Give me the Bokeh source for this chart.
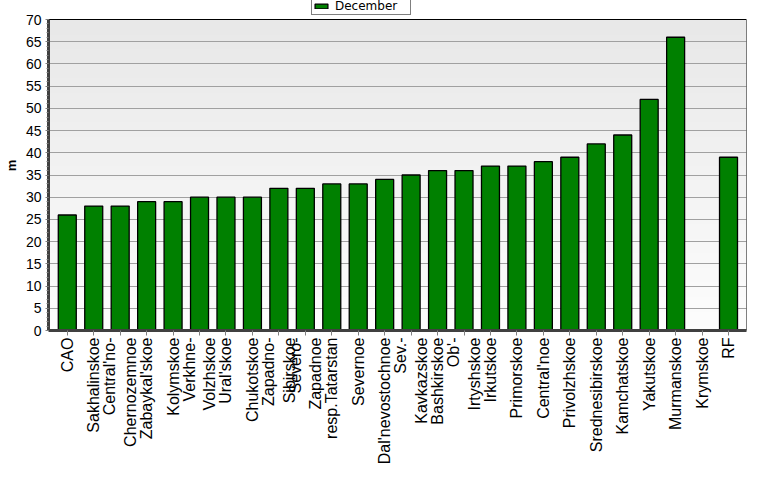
import numpy as np
from bokeh.plotting import figure
from bokeh.models import (ColumnDataSource, Range1d, FixedTicker, SingleIntervalTicker,
                          Legend, LegendItem)
from bokeh.embed import file_html
from bokeh.resources import INLINE

# ---- data ----
regions = ["CAO", "Sakhalinskoe", "Central'no-\nChernozemnoe", "Zabaykal'skoe", "Kolymskoe",
           "Verkhne-\nVolzhskoe", "Ural'skoe", "Chukotskoe", "Zapadno-\nSibirskoe",
           "Severo-\nZapadnoe", "resp.Tatarstan", "Severnoe", "Dal'nevostochnoe",
           "Sev.-\nKavkazskoe", "Bashkirskoe", "Ob'-\nIrtyshskoe", "Irkutskoe", "Primorskoe",
           "Central'noe", "Privolzhskoe", "Srednesibirskoe", "Kamchatskoe", "Yakutskoe",
           "Murmanskoe", "Krymskoe", "RF"]
december = [26, 28, 28, 29, 29, 30, 30, 30, 32, 32, 33, 33, 34, 35, 36, 36, 37, 37,
            38, 39, 42, 44, 52, 66, float("nan"), 39]
y_ticks = [0, 5, 10, 15, 20, 25, 30, 35, 40, 45, 50, 55, 60, 65, 70]
series_name = "December"
y_label = "m"
y_max = 70

xs = list(range(len(regions)))
src = ColumnDataSource(dict(x=xs, top=december))

x0, x1 = -0.71, len(regions) - 1 + 0.68

H = 470
PLOT_TOP_PX = 19          # pixels between figure top and the 70 line
PLOT_H_PX = 311           # pixels from 0 to 70
BOTTOM = H - PLOT_TOP_PX - PLOT_H_PX
y_top = y_max * (1 + PLOT_TOP_PX / PLOT_H_PX)

p = figure(width=761, height=H, output_backend="svg", toolbar_location=None,
           x_range=Range1d(x0, x1), y_range=Range1d(0, y_top),
           min_border_left=42, min_border_right=15, min_border_top=0, min_border_bottom=BOTTOM)

p.background_fill_color = "white"
p.border_fill_color = "white"
p.outline_line_color = None

# gradient plot background
n = 64
shade = np.linspace(253, 232, n).astype(np.uint32)
img = np.empty((n, 1), dtype=np.uint32)
view = img.view(dtype=np.uint8).reshape((n, 1, 4))
view[:, 0, 0] = shade
view[:, 0, 1] = shade
view[:, 0, 2] = shade
view[:, 0, 3] = 255
p.image_rgba(image=[img], x=x0, y=0, dw=x1 - x0, dh=y_max, level="image")

# plot-area border
p.quad(left=x0, right=x1, bottom=0, top=y_max, fill_color=None, line_color="black",
       line_width=1)

bars = p.vbar(x="x", top="top", width=0.68, source=src, fill_color="#008000",
              line_color="black", line_width=1.3)

# grid
p.xgrid.visible = False
p.ygrid.ticker = FixedTicker(ticks=y_ticks)
p.ygrid.grid_line_color = "#a0a0a0"
p.ygrid.grid_line_width = 1

# y axis
p.yaxis.ticker = SingleIntervalTicker(interval=5, num_minor_ticks=5)
p.yaxis.bounds = (0, y_max)
p.yaxis.axis_line_color = "#404040"
p.yaxis.axis_line_width = 3
p.yaxis.major_tick_out = 3
p.yaxis.major_tick_in = 0
p.yaxis.minor_tick_out = 2
p.yaxis.minor_tick_in = 0
p.yaxis.major_tick_line_color = "#808080"
p.yaxis.minor_tick_line_color = "#808080"
p.yaxis.major_label_text_font = "Liberation Sans"
p.yaxis.major_label_text_font_size = "14px"
p.yaxis.major_label_text_color = "black"
p.yaxis.major_label_standoff = 4
p.yaxis.axis_label = y_label
p.yaxis.axis_label_text_font = "Liberation Sans"
p.yaxis.axis_label_text_font_size = "13px"
p.yaxis.axis_label_text_font_style = "bold"
p.yaxis.axis_label_text_color = "black"
p.yaxis.axis_label_standoff = 4

# x axis
p.xaxis.ticker = FixedTicker(ticks=xs)
p.xaxis.major_label_overrides = {i: lab for i, lab in enumerate(regions)}
p.xaxis.major_label_orientation = np.pi / 2
p.xaxis.axis_line_color = "#404040"
p.xaxis.axis_line_width = 3
p.xaxis.major_tick_out = 5
p.xaxis.major_tick_in = 0
p.xaxis.major_tick_line_color = "#808080"
p.xaxis.minor_tick_line_color = None
p.xaxis.major_label_text_font = "Liberation Sans"
p.xaxis.major_label_text_font_size = "16px"
p.xaxis.major_label_text_color = "black"
p.xaxis.major_label_standoff = 2

# legend in the strip above the 70 line
legend = Legend(items=[LegendItem(label=series_name, renderers=[bars])],
                location=(263, PLOT_TOP_PX + PLOT_H_PX - 15), orientation="horizontal")
legend.border_line_color = "black"
legend.border_line_width = 1
legend.background_fill_color = "white"
legend.background_fill_alpha = 1
legend.label_text_font = "DejaVu Sans"
legend.label_text_font_size = "12px"
legend.label_text_color = "black"
legend.label_height = 12
legend.label_width = 74
legend.glyph_height = 6
legend.glyph_width = 16
legend.padding = 1
legend.margin = 0
legend.spacing = 0
legend.label_standoff = 6
legend.label_text_baseline = "middle"
p.add_layout(legend, "center")

open("out.html", "w").write(file_html(p, INLINE))
